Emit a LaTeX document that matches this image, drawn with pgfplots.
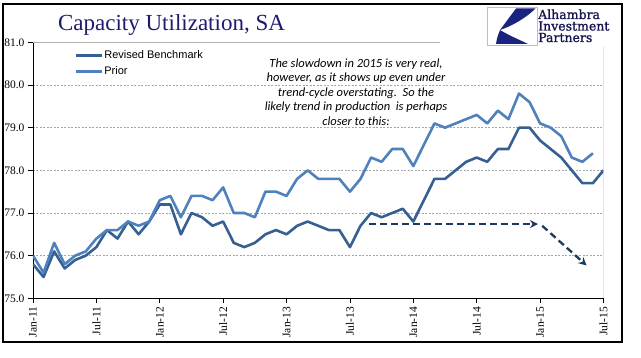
\documentclass[border=0pt]{standalone}
\usepackage{fontspec}
\setmainfont{Liberation Serif}
\newfontfamily\arial{Liberation Sans}
\newfontfamily\calibri{Carlito}
\newfontfamily\dejaserif[FakeBold=1.2]{DejaVu Serif}
\usepackage{pgfplots}
\usepackage{pgfplotstable}
\pgfplotsset{compat=1.18}
\usetikzlibrary{arrows.meta}
\definecolor{revised}{HTML}{376092}
\definecolor{prior}{HTML}{4F81BD}
\definecolor{arrowc}{HTML}{1F3A5F}
\definecolor{titlec}{HTML}{1C1C6E}
\definecolor{logoc}{HTML}{1A2380}
\definecolor{logotext}{HTML}{141450}

\pgfplotstableread{
x y
0 75.8
1 75.5
2 76.1
3 75.7
4 75.9
5 76.0
6 76.2
7 76.6
8 76.4
9 76.8
10 76.5
11 76.8
12 77.2
13 77.2
14 76.5
15 77.0
16 76.9
17 76.7
18 76.8
19 76.3
20 76.2
21 76.3
22 76.5
23 76.6
24 76.5
25 76.7
26 76.8
27 76.7
28 76.6
29 76.6
30 76.2
31 76.7
32 77.0
33 76.9
34 77.0
35 77.1
36 76.8
37 77.3
38 77.8
39 77.8
40 78.0
41 78.2
42 78.3
43 78.2
44 78.5
45 78.5
46 79.0
47 79.0
48 78.7
49 78.5
50 78.3
51 78.0
52 77.7
53 77.7
54 78.0
}\revisedtab

\pgfplotstableread{
x y
0 76.0
1 75.6
2 76.3
3 75.8
4 76.0
5 76.1
6 76.4
7 76.6
8 76.6
9 76.8
10 76.7
11 76.8
12 77.3
13 77.4
14 76.9
15 77.4
16 77.4
17 77.3
18 77.6
19 77.0
20 77.0
21 76.9
22 77.5
23 77.5
24 77.4
25 77.8
26 78.0
27 77.8
28 77.8
29 77.8
30 77.5
31 77.8
32 78.3
33 78.2
34 78.5
35 78.5
36 78.1
37 78.6
38 79.1
39 79.0
40 79.1
41 79.2
42 79.3
43 79.1
44 79.4
45 79.2
46 79.8
47 79.6
48 79.1
49 79.0
50 78.8
51 78.3
52 78.2
53 78.4
}\priortab

\begin{document}
\begin{tikzpicture}[x=1pt,y=1pt]
\path[use as bounding box] (0,0) rectangle (641,358);
\fill[white] (0,0) rectangle (641,358);

\begin{axis}[
  at={(33pt,59.7pt)}, anchor=south west,
  scale only axis, width=570.5pt, height=255.9pt,
  xmin=0, xmax=54, ymin=75, ymax=81,
  axis lines=left, axis line style={-, black, line width=0.9pt},
  xtick={0,6,...,54},
  xticklabels={Jan-11,Jul-11,Jan-12,Jul-12,Jan-13,Jul-13,Jan-14,Jul-14,Jan-15,Jul-15},
  ytick={75,76,...,81},
  tick align=outside, major tick length=5pt,
  tick style={black, line width=0.8pt},
  ymajorgrids, grid style={gray!70, dash pattern=on 2pt off 1.5pt, line width=0.6pt},
  tick label style={font=\fontsize{11.5}{13}\selectfont},
  /pgf/number format/assume math mode=true,
  yticklabel style={/pgf/number format/.cd, fixed, fixed zerofill, precision=1},
  xticklabel style={rotate=90, anchor=east},
  legend style={at={(0.072,0.975)}, anchor=north west, draw=none, fill=none,
    inner sep=0pt, row sep=4pt, font=\arial\fontsize{11}{13}\selectfont,
    nodes={inner sep=1.5pt}},
  legend image code/.code={\draw[#1] (0pt,0pt) -- (26pt,0pt);},
  legend cell align=left,
]
\draw[gray!60, line width=0.8pt] (axis cs:0,81) -- (axis cs:54,81) -- (axis cs:54,75);
\addplot[revised, line width=2.6pt, line join=round, no marks] table[x=x,y=y] {\revisedtab};
\addlegendentry{Revised Benchmark}
\addplot[prior, line width=2.6pt, line join=round, no marks] table[x=x,y=y] {\priortab};
\addlegendentry{Prior}
\draw[arrowc, line width=2.3pt, dash pattern=on 7pt off 4pt, -{Stealth[length=8pt,width=8pt]}]
  (axis cs:31.8,76.74) -- (axis cs:47.8,76.74);
\draw[arrowc, line width=2.3pt, dash pattern=on 7pt off 4pt, -{Stealth[length=8pt,width=8pt]}]
  (axis cs:48.2,76.7) -- (axis cs:52.4,75.77);
\end{axis}

% title
\node[anchor=base, inner sep=0, font=\fontsize{23}{26}\selectfont, text=titlec] at (171.5,327) {Capacity Utilization, SA};

% annotation
\node[anchor=north, inner sep=0, align=center, font=\calibri\itshape\fontsize{12.5}{14.5}\selectfont] at (356,299.5)
 {The slowdown in 2015 is very real,\\however, as it shows up even under\\trend-cycle overstating.\ \ So the\\likely trend in production\ \ is perhaps\\closer to this:};

% logo
\fill[white] (440,310.5) rectangle (620.5,353);
\draw[gray!50, line width=0.6pt] (487,351) rectangle (537,313);
\fill[logoc] (516,349.5) -- (535.5,349.5) .. controls (526,340) and (512,332) .. (500,328) -- cycle;
\fill[logoc] (500,328) .. controls (510,322) and (520,318) .. (528,314) -- (496,314) .. controls (497,320) .. (500,328) -- cycle;
\node[anchor=base west, inner sep=0, font=\dejaserif\fontsize{12.5}{13}\selectfont, text=logotext] at (538,339) {Alhambra};
\node[anchor=base west, inner sep=0, font=\dejaserif\fontsize{12.5}{13}\selectfont, text=logotext] at (538,327.5) {Investment};
\node[anchor=base west, inner sep=0, font=\dejaserif\fontsize{12.5}{13}\selectfont, text=logotext] at (538,316) {Partners};

% frame
\draw[black, line width=1.3pt] (3,354) rectangle (622,16);
\end{tikzpicture}
\end{document}
